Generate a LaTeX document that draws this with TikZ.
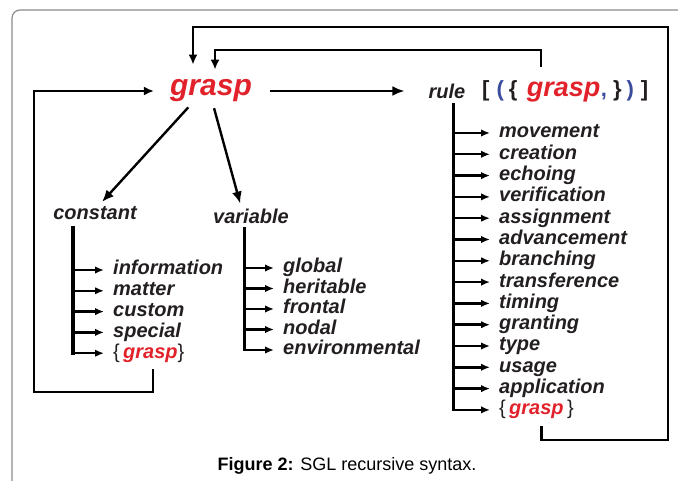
\documentclass[tikz,border=0pt]{standalone}
\usepackage{fontspec}
\setmainfont{Liberation Sans}
\usetikzlibrary{arrows.meta,calc,positioning}
\definecolor{graspred}{HTML}{E2222B}
\definecolor{parblue}{HTML}{3B4C9E}
\definecolor{ink}{HTML}{231F20}
\definecolor{framegray}{HTML}{8C8C8C}
\newcommand{\sglfont}{\fontsize{20}{22}\selectfont\bfseries\itshape}

\begin{document}
\begin{tikzpicture}[x=1pt,y=-1pt,
        item/.style={anchor=west,inner sep=1pt,text height=14pt,text depth=4pt,font=\sglfont,text=ink},
        head/.style={inner sep=2pt,font=\sglfont,text=ink},
        link/.style={line width=2.4pt,-{Latex[length=12pt,width=10pt]}},
        loopline/.style={line width=2.4pt,-{Latex[length=10pt,width=9pt]}},
        bar/.style={line width=3pt,line cap=rect},
        branch/.style={line width=2.4pt,-{Latex[length=9pt,width=7.5pt]},shorten >=8pt}]
        \useasboundingbox (0,0) rectangle (678,481);
        \draw[framegray,line width=1.2pt,rounded corners=8pt] (12,482) -- (12,10) -- (679,10);

        \node[inner sep=2pt,font=\fontsize{30}{32}\selectfont\bfseries\itshape,text=graspred] (grasp) at (211,91) {grasp};
        \node[head] (rule) at (447,91) {rule};
        \node[anchor=west,inner sep=1pt,font=\fontsize{22}{24}\selectfont\bfseries,text=ink] (rulebr) at (481,91)
            {[\hspace{7pt}{\color{parblue}(}\hspace{5pt}\{\hspace{9.5pt}{\color{graspred}\itshape\fontsize{27}{27}\selectfont grasp}\hspace{0.5pt}{\color{parblue},}\hspace{6pt}\}\hspace{5pt}{\color{parblue})}\hspace{7pt}]};
        \node[head] (constant) at (95,213) {constant};
        \node[head] (variable) at (251,216) {variable};

        \draw[link,shorten <=16pt,shorten >=22pt] (grasp) -- (rule);
        \draw[link,shorten <=4pt,shorten >=3pt] ([xshift=-20pt]grasp.south) -- ([xshift=5pt]constant.north);
        \draw[link,shorten <=4pt,shorten >=3pt] ([xshift=2pt]grasp.south) -- ([xshift=-10pt]variable.north);

        \foreach \name [count=\i] in {information,matter,custom,special}
            \node[item] (c\i) at (112,{270+20.8*(\i-1)}) {\name};
        \node[item] (c5) at (112,353.2) {{\normalfont\{}\,{\color{graspred}grasp}{\normalfont\}}};

        \foreach \name [count=\i] in {global,heritable,frontal,nodal,environmental}
            \node[item] (v\i) at (282,{268+20.5*(\i-1)}) {\name};

        \foreach \name [count=\i] in {movement,creation,echoing,verification,assignment,advancement,branching,transference,timing,granting,type,usage,application}
            \node[item] (r\i) at (498,{133+21.3*(\i-1)}) {\name};
        \node[item] (r14) at (498,409.9) {{\normalfont\{}\,{\color{graspred}grasp}\,{\normalfont\}}};

        \coordinate (cbar) at ([xshift=-22pt,yshift=-6pt]constant.south);
        \coordinate (vbar) at ([xshift=-7pt,yshift=-3pt]variable.south);
        \coordinate (rbar) at ([xshift=6pt,yshift=-4pt]rule.south);
        \draw[bar,line width=4pt] (cbar) -- (cbar |- c5.west);
        \draw[bar] (vbar) -- (vbar |- v5.west);
        \draw[bar] (rbar) -- (rbar |- r14.west);
        \foreach \i in {1,...,5} {
            \draw[branch] (cbar |- c\i.west) -- (c\i.west);
            \draw[branch] (vbar |- v\i.west) -- (v\i.west);
        }
        \foreach \i in {1,...,14}
            \draw[branch] (rbar |- r\i.west) -- (r\i.west);

        \coordinate (lc1) at (34,392);
        \coordinate (oc1) at (668,440);
        \coordinate (oc2) at (193,27);
        \coordinate (ic1) at (215,50);
        \draw[loopline,shorten >=14pt] ([xshift=4pt,yshift=-6pt]c5.south) |- (lc1) |- (grasp.west);
        \draw[loopline,shorten >=13pt] ([xshift=5pt,yshift=-6pt]r14.south) |- (oc1) |- (oc2) -- (oc2 |- grasp.north);
        \draw[loopline,shorten >=8pt] ([xshift=-24pt,yshift=12pt]rulebr.north) |- (ic1) -- (ic1 |- grasp.north);

        \node[font=\fontsize{18}{21}\selectfont,text=black] (caption) at (347,466) {\textbf{Figure 2:} SGL recursive syntax.};
    \end{tikzpicture}
\end{document}
